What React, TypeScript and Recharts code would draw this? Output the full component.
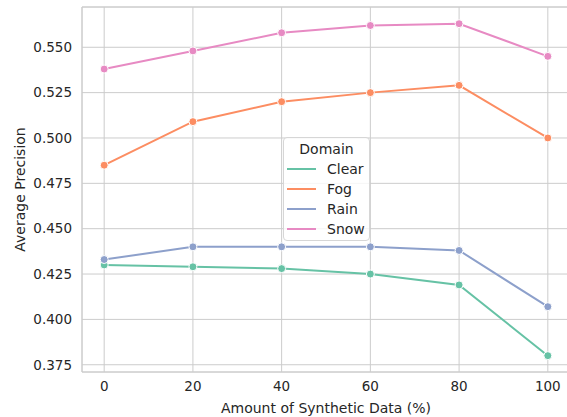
import { LineChart, Line, XAxis, YAxis, CartesianGrid, Legend, ReferenceLine } from "recharts";

const AMOUNTS = [0, 20, 40, 60, 80, 100];
const CLEAR = [0.43, 0.429, 0.428, 0.425, 0.419, 0.38];
const FOG = [0.485, 0.509, 0.52, 0.525, 0.529, 0.5];
const RAIN = [0.433, 0.44, 0.44, 0.44, 0.438, 0.407];
const SNOW = [0.538, 0.548, 0.558, 0.562, 0.563, 0.545];

const Y_TICKS = [0.375, 0.4, 0.425, 0.45, 0.475, 0.5, 0.525, 0.55];
const X_TICKS = [0, 20, 40, 60, 80, 100];
const Y_MIN = 0.371;
const Y_MAX = 0.5722;

const SERIES = [
  { key: "Clear", color: "#66c2a5", values: CLEAR },
  { key: "Fog", color: "#fc8d62", values: FOG },
  { key: "Rain", color: "#8da0cb", values: RAIN },
  { key: "Snow", color: "#e78ac3", values: SNOW },
];

const rows = AMOUNTS.map((x, i) => {
  const r: Record<string, number> = { x };
  SERIES.forEach((s) => (r[s.key] = s.values[i]));
  return r;
});

const FONT = "'DejaVu Sans', sans-serif";
const TEXT = "#262626";

const DomainLegend = () => (
  <div
    style={{
      width: 87,
      height: 104,
      boxSizing: "border-box",
      border: "1px solid #d6d6d6",
      borderRadius: 4,
      background: "rgba(255,255,255,0.8)",
      fontFamily: FONT,
      fontSize: 14,
      color: TEXT,
    }}
  >
    <div style={{ textAlign: "center", marginTop: 1, height: 20, lineHeight: "20px" }}>Domain</div>
    {SERIES.map((s) => (
      <div key={s.key} style={{ display: "flex", alignItems: "center", height: 20, lineHeight: "20px" }}>
        <div style={{ width: 29, height: 2, background: s.color, marginLeft: 3, marginRight: 11 }} />
        <span>{s.key}</span>
      </div>
    ))}
  </div>
);

export default function App() {
  return (
    <div style={{ position: "absolute", left: 0, top: 0, width: 567, height: 417, overflow: "hidden", background: "#fff" }}>
      <LineChart width={570} height={417} data={rows} margin={{ top: 7, right: 0, left: 0, bottom: 0 }}>
        <CartesianGrid stroke="#cccccc" strokeWidth={1} />
        <XAxis
          dataKey="x"
          type="number"
          domain={[-5, 105]}
          ticks={X_TICKS}
          height={45}
          tickLine={false}
          tickSize={6}
          tickMargin={3}
          axisLine={{ stroke: "#cccccc" }}
          tick={{ fill: TEXT, fontSize: 13.5, fontFamily: FONT }}
          label={{ value: "Amount of Synthetic Data (%)", position: "insideBottom", offset: 4, fill: TEXT, fontSize: 14, fontFamily: FONT }}
        />
        <YAxis
          type="number"
          domain={[Y_MIN, Y_MAX]}
          ticks={Y_TICKS}
          width={82}
          allowDataOverflow
          tickLine={false}
          tickSize={6}
          tickMargin={4}
          axisLine={{ stroke: "#cccccc" }}
          tickFormatter={(v: number) => v.toFixed(3)}
          tick={{ fill: TEXT, fontSize: 13.5, fontFamily: FONT }}
          label={{ value: "Average Precision", angle: -90, position: "insideLeft", offset: 20, fill: TEXT, fontSize: 14, fontFamily: FONT, style: { textAnchor: "middle" } }}
        />
        <ReferenceLine y={Y_MAX} stroke="#cccccc" ifOverflow="extendDomain" />
        <Legend
          layout="horizontal"
          verticalAlign="middle"
          align="center"
          content={<DomainLegend />}
          wrapperStyle={{ position: "absolute", left: 283, top: 137, width: 87 }}
        />
        {SERIES.map((s) => (
          <Line
            key={s.key}
            type="linear"
            dataKey={s.key}
            stroke={s.color}
            strokeWidth={2}
            dot={{ r: 4, fill: s.color, stroke: "#ffffff", strokeWidth: 1 }}
            activeDot={false}
            isAnimationActive={false}
          />
        ))}
      </LineChart>
    </div>
  );
}
